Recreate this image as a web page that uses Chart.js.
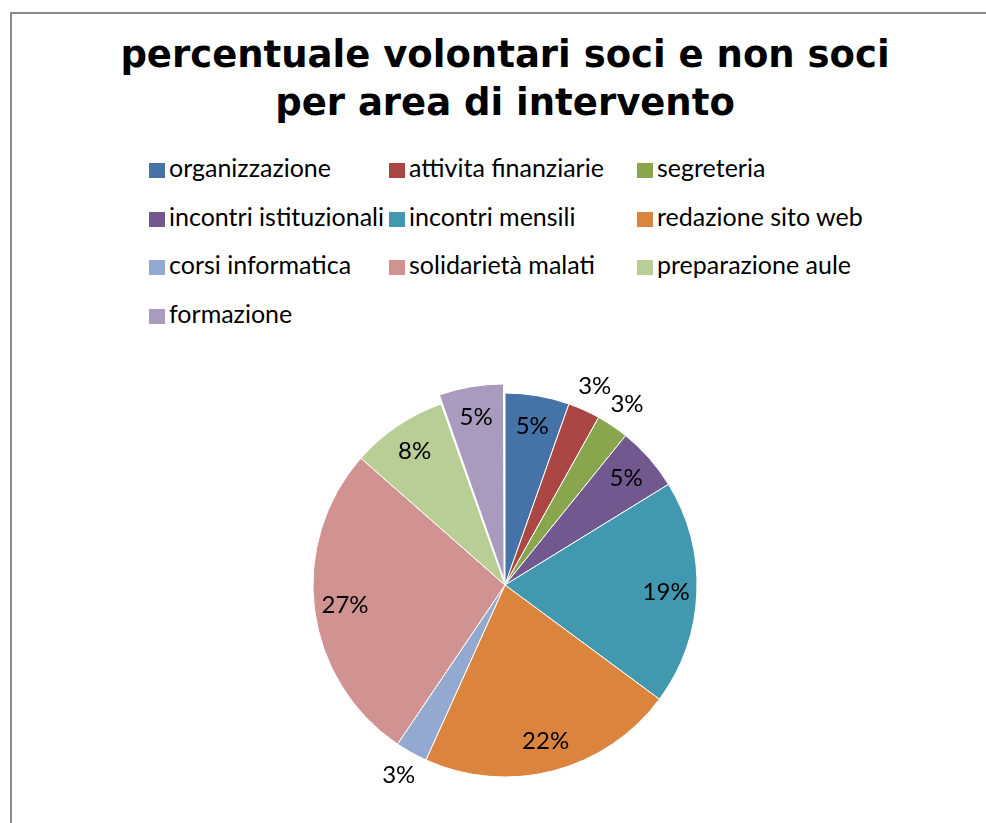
<!DOCTYPE html>
<html>
<head>
<meta charset="utf-8">
<script src="https://cdn.jsdelivr.net/npm/chart.js@4"></script>
<style>
  body { margin: 0; background: #fff; width: 986px; height: 823px; overflow: hidden; position: relative; }
  #frame { position: absolute; left: 10px; top: 12px; width: 1000px; height: 900px;
           border-left: 2px solid #8a8a8a; border-top: 2px solid #8a8a8a; }
  #title { position: absolute; left: 0; width: 1010px; top: 31px; text-align: center;
           font: bold 37px "DejaVu Sans"; line-height: 48px; color: #000; }
  .leg { position: absolute; font: 25px Lato; color: #000; white-space: nowrap; line-height: 26px; }
  .leg span { display: inline-block; width: 16px; height: 15px; margin-right: 4px; vertical-align: -1px; }
  #pie { position: absolute; left: 285px; top: 365px; }
</style>
</head>
<body>
<div id="frame"></div>
<div id="title">percentuale volontari soci e non soci<br>per area di intervento</div>
<div id="legend"></div>
<canvas id="pie" width="440" height="440"></canvas>
<script>
const categories = ["organizzazione", "attivita finanziarie", "segreteria",
  "incontri istituzionali", "incontri mensili", "redazione sito web",
  "corsi informatica", "solidarietà malati", "preparazione aule", "formazione"];
const volunteers = [2, 1, 1, 2, 7, 8, 1, 10, 3, 2];
const colors = ["#4572A7", "#AA4643", "#89A54E", "#71588F", "#4198AF",
  "#DB843D", "#93A9CF", "#D19392", "#B9CD96", "#A99BBD"];
const explode = [0, 0, 0, 0, 0, 0, 0, 0, 0, 22];

// legend in three columns, like the original
const legCols = [149, 389, 637];
const legend = document.getElementById("legend");
categories.forEach(function (c, i) {
  const d = document.createElement("div");
  d.className = "leg";
  d.style.left = legCols[i % 3] + "px";
  d.style.top = (154 + Math.floor(i / 3) * 48.5) + "px";
  d.innerHTML = '<span style="background:' + colors[i] + '"></span>' + c;
  legend.appendChild(d);
});

const total = volunteers.reduce((a, b) => a + b, 0);

const pctLabels = {
  id: "pctLabels",
  afterDatasetsDraw(chart) {
    const ctx = chart.ctx;
    const meta = chart.getDatasetMeta(0);
    ctx.save();
    ctx.font = "24px Lato";
    ctx.fillStyle = "#000";
    ctx.textAlign = "center";
    ctx.textBaseline = "middle";
    meta.data.forEach(function (arc, i) {
      const pct = Math.round(volunteers[i] / total * 100);
      const mid = (arc.startAngle + arc.endAngle) / 2;
      const circ = arc.endAngle - arc.startAngle;
      const off = explode[i] / 4 * (2 - Math.sin(Math.min(Math.PI, circ)));
      const f = pct < 4 ? 1.135 : 0.84;
      const r = arc.outerRadius * f + off;
      ctx.fillText(pct + "%", arc.x + Math.cos(mid) * r, arc.y + Math.sin(mid) * r);
    });
    ctx.restore();
  }
};

new Chart(document.getElementById("pie"), {
  type: "pie",
  data: {
    labels: categories,
    datasets: [{
      data: volunteers,
      backgroundColor: colors,
      borderColor: "#fff",
      borderWidth: 1,
      offset: explode,
      radius: 192
    }]
  },
  options: {
    responsive: false,
    animation: false,
    layout: { padding: 0 },
    plugins: {
      legend: { display: false },
      tooltip: { enabled: false }
    }
  },
  plugins: [pctLabels]
});
</script>
</body>
</html>
